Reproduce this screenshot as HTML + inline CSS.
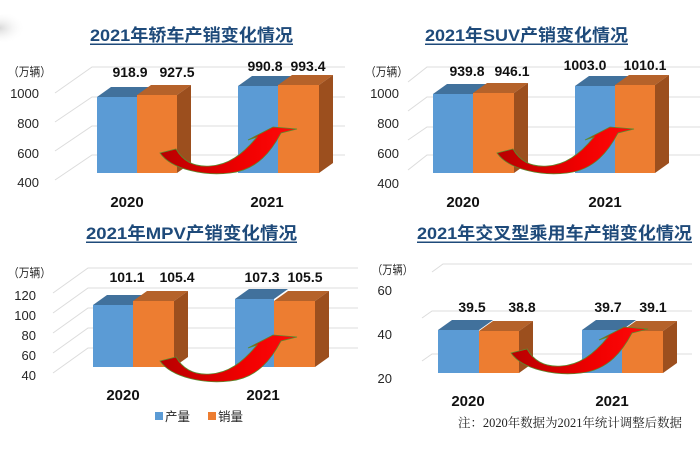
<!DOCTYPE html>
<html><head><meta charset="utf-8"><style>
html,body{margin:0;padding:0;background:#fff;}
svg{display:block;}
.t{font-family:"Liberation Sans","Noto Sans CJK SC",sans-serif;font-weight:bold;font-size:17px;fill:#1e4a7a;}
.y{font-family:"Liberation Sans","Noto Sans CJK SC",sans-serif;font-size:13px;fill:#262626;text-anchor:end;}
.u{font-family:"Liberation Sans","Noto Sans CJK SC",sans-serif;font-size:12px;fill:#262626;}
.v{font-family:"Liberation Sans","Noto Sans CJK SC",sans-serif;font-size:14px;font-weight:bold;fill:#111;text-anchor:middle;}
.x{font-family:"Liberation Sans","Noto Sans CJK SC",sans-serif;font-size:15px;font-weight:bold;fill:#111;text-anchor:middle;}
.g{stroke:#dcdcdc;stroke-width:1;fill:none;}
</style></head><body>
<svg width="700" height="449" viewBox="0 0 700 449" xmlns="http://www.w3.org/2000/svg">
<defs>
<linearGradient id="ar" x1="0" y1="0" x2="1" y2="0">
<stop offset="0" stop-color="#b80000"/><stop offset="0.6" stop-color="#f00000"/><stop offset="1" stop-color="#ff0a0a"/>
</linearGradient>
<radialGradient id="sh" cx="0.3" cy="0.5" r="0.6">
<stop offset="0" stop-color="#d8d8d8"/><stop offset="1" stop-color="#ffffff" stop-opacity="0"/>
</radialGradient>
<g id="arrow">
<path d="M160,153 L176,149 C184,163 196,167 210,166 C228,165 242,155 257,137 L248,140 L273,127 L297,129 L281,133 C272,150 258,170 230,173 C205,176 172,170 160,153 Z" fill="url(#ar)" stroke="#5c8a2e" stroke-width="0.8"/>
</g>
</defs>
<rect width="700" height="449" fill="#fff"/>
<ellipse cx="8" cy="28" rx="22" ry="14" fill="url(#sh)"/>

<!-- ===== Chart 1 ===== -->
<text class="t" x="90" y="41" textLength="203" lengthAdjust="spacingAndGlyphs">2021年轿车产销变化情况</text>
<rect x="90" y="43.5" width="203" height="1.5" fill="#1e4a7a"/>
<text class="u" x="8" y="76" textLength="43" lengthAdjust="spacingAndGlyphs">（万辆）</text>
<path class="g" d="M55,93 L92,67 L345,67 M55,122 L92,97 L345,97 M55,151 L92,126 L345,126 M55,180 L92,155 L345,155"/>
<text class="y" x="39" y="98">1000</text>
<text class="y" x="39" y="128">800</text>
<text class="y" x="39" y="158">600</text>
<text class="y" x="39" y="187">400</text>
<!-- 2020 -->
<rect x="97" y="97" width="40" height="76" fill="#5b9bd5"/>
<polygon points="97,97 111,87 151,87 137,97" fill="#41719c"/>
<rect x="137" y="95" width="40" height="78" fill="#ed7d31"/>
<polygon points="137,95 151,85 191,85 177,95" fill="#b5622a"/>
<polygon points="177,95 191,85 191,163 177,173" fill="#9c4f1e"/>
<!-- 2021 -->
<rect x="238" y="86" width="40" height="87" fill="#5b9bd5"/>
<polygon points="238,86 252,76 292,76 278,86" fill="#41719c"/>
<rect x="278" y="85" width="41" height="88" fill="#ed7d31"/>
<polygon points="278,85 292,75 333,75 319,85" fill="#b5622a"/>
<polygon points="319,85 333,75 333,163 319,173" fill="#9c4f1e"/>
<use href="#arrow"/>
<text class="v" x="130" y="77">918.9</text>
<text class="v" x="177" y="77">927.5</text>
<text class="v" x="265" y="71">990.8</text>
<text class="v" x="308" y="71">993.4</text>
<text class="x" x="127" y="207">2020</text>
<text class="x" x="267" y="207">2021</text>

<!-- ===== Chart 2 ===== -->
<text class="t" x="425" y="41" textLength="203" lengthAdjust="spacingAndGlyphs">2021年SUV产销变化情况</text>
<rect x="425" y="43.5" width="203" height="1.5" fill="#1e4a7a"/>
<text class="u" x="365" y="76" textLength="43" lengthAdjust="spacingAndGlyphs">（万辆）</text>
<path class="g" d="M408,82 L427,67 L700,67 M408,111 L427,97 L700,97 M408,140 L427,127 L700,127 M408,170 L427,155 L700,155"/>
<text class="y" x="399" y="98">1000</text>
<text class="y" x="399" y="128">800</text>
<text class="y" x="399" y="158">600</text>
<text class="y" x="399" y="188">400</text>
<rect x="433" y="94" width="40" height="79" fill="#5b9bd5"/>
<polygon points="433,94 447,84 487,84 473,94" fill="#41719c"/>
<rect x="473" y="93" width="41" height="80" fill="#ed7d31"/>
<polygon points="473,93 487,83 528,83 514,93" fill="#b5622a"/>
<polygon points="514,93 528,83 528,163 514,173" fill="#9c4f1e"/>
<rect x="575" y="86" width="40" height="87" fill="#5b9bd5"/>
<polygon points="575,86 589,76 629,76 615,86" fill="#41719c"/>
<rect x="615" y="85" width="40" height="88" fill="#ed7d31"/>
<polygon points="615,85 629,75 669,75 655,85" fill="#b5622a"/>
<polygon points="655,85 669,75 669,163 655,173" fill="#9c4f1e"/>
<use href="#arrow" transform="translate(337,0)"/>
<text class="v" x="467" y="76">939.8</text>
<text class="v" x="512" y="76">946.1</text>
<text class="v" x="585" y="70">1003.0</text>
<text class="v" x="645" y="70">1010.1</text>
<text class="x" x="463" y="207">2020</text>
<text class="x" x="605" y="207">2021</text>

<!-- ===== Chart 3 ===== -->
<text class="t" x="86" y="239" textLength="211" lengthAdjust="spacingAndGlyphs">2021年MPV产销变化情况</text>
<rect x="86" y="241.5" width="211" height="1.5" fill="#1e4a7a"/>
<text class="u" x="8" y="277" textLength="43" lengthAdjust="spacingAndGlyphs">（万辆）</text>
<path class="g" d="M53,293 L88,268 L358,268 M53,313 L88,288 L358,288 M53,333 L88,308 L358,308 M53,353 L88,328 L358,328 M53,373 L88,348 L358,348"/>
<text class="y" x="36" y="300">120</text>
<text class="y" x="36" y="320">100</text>
<text class="y" x="36" y="340">80</text>
<text class="y" x="36" y="360">60</text>
<text class="y" x="36" y="380">40</text>
<rect x="93" y="305" width="40" height="62" fill="#5b9bd5"/>
<polygon points="93,305 107,295 147,295 133,305" fill="#41719c"/>
<rect x="133" y="301" width="41" height="66" fill="#ed7d31"/>
<polygon points="133,301 147,291 188,291 174,301" fill="#b5622a"/>
<polygon points="174,301 188,291 188,357 174,367" fill="#9c4f1e"/>
<rect x="235" y="299" width="39" height="68" fill="#5b9bd5"/>
<polygon points="235,299 249,289 288,289 274,299" fill="#41719c"/>
<rect x="274" y="301" width="41" height="66" fill="#ed7d31"/>
<polygon points="274,301 288,291 329,291 315,301" fill="#b5622a"/>
<polygon points="315,301 329,291 329,357 315,367" fill="#9c4f1e"/>
<use href="#arrow" transform="translate(0,208)"/>
<text class="v" x="127" y="282">101.1</text>
<text class="v" x="177" y="282">105.4</text>
<text class="v" x="262" y="282">107.3</text>
<text class="v" x="305" y="282">105.5</text>
<text class="x" x="123" y="400">2020</text>
<text class="x" x="263" y="400">2021</text>
<rect x="155" y="412" width="8" height="8" fill="#5b9bd5"/>
<text class="u" x="165" y="421" style="font-size:12.5px">产量</text>
<rect x="208" y="412" width="8" height="8" fill="#ed7d31"/>
<text class="u" x="218" y="421" style="font-size:12.5px">销量</text>

<!-- ===== Chart 4 ===== -->
<text class="t" x="417" y="239" textLength="275" lengthAdjust="spacingAndGlyphs">2021年交叉型乘用车产销变化情况</text>
<rect x="417" y="241.5" width="275" height="1.5" fill="#1e4a7a"/>
<text class="u" x="372" y="274" textLength="41" lengthAdjust="spacingAndGlyphs">（万辆）</text>
<path class="g" d="M432,272 L443,264 L692,264 M422,318 L432,311 L692,311 M422,361 L432,354 L692,354"/>
<text class="y" x="392" y="295">60</text>
<text class="y" x="392" y="339">40</text>
<text class="y" x="392" y="383">20</text>
<rect x="438" y="330" width="41" height="43" fill="#5b9bd5"/>
<polygon points="438,330 452,320 493,320 479,330" fill="#41719c"/>
<rect x="479" y="331" width="40" height="42" fill="#ed7d31"/>
<polygon points="479,331 493,321 533,321 519,331" fill="#b5622a"/>
<polygon points="519,331 533,321 533,363 519,373" fill="#9c4f1e"/>
<rect x="582" y="330" width="40" height="43" fill="#5b9bd5"/>
<polygon points="582,330 596,320 636,320 622,330" fill="#41719c"/>
<rect x="622" y="331" width="41" height="42" fill="#ed7d31"/>
<polygon points="622,331 636,321 677,321 663,331" fill="#b5622a"/>
<polygon points="663,331 677,321 677,363 663,373" fill="#9c4f1e"/>
<use href="#arrow" transform="translate(351,200)"/>
<text class="v" x="472" y="312">39.5</text>
<text class="v" x="522" y="312">38.8</text>
<text class="v" x="608" y="312">39.7</text>
<text class="v" x="653" y="312">39.1</text>
<text class="x" x="468" y="406">2020</text>
<text class="x" x="612" y="406">2021</text>
<text x="458" y="427" textLength="224" lengthAdjust="spacingAndGlyphs" style="font-family:'Liberation Serif','Noto Serif CJK SC',serif;font-size:12.5px;fill:#222;">注：2020年数据为2021年统计调整后数据</text>
</svg>
</body></html>
